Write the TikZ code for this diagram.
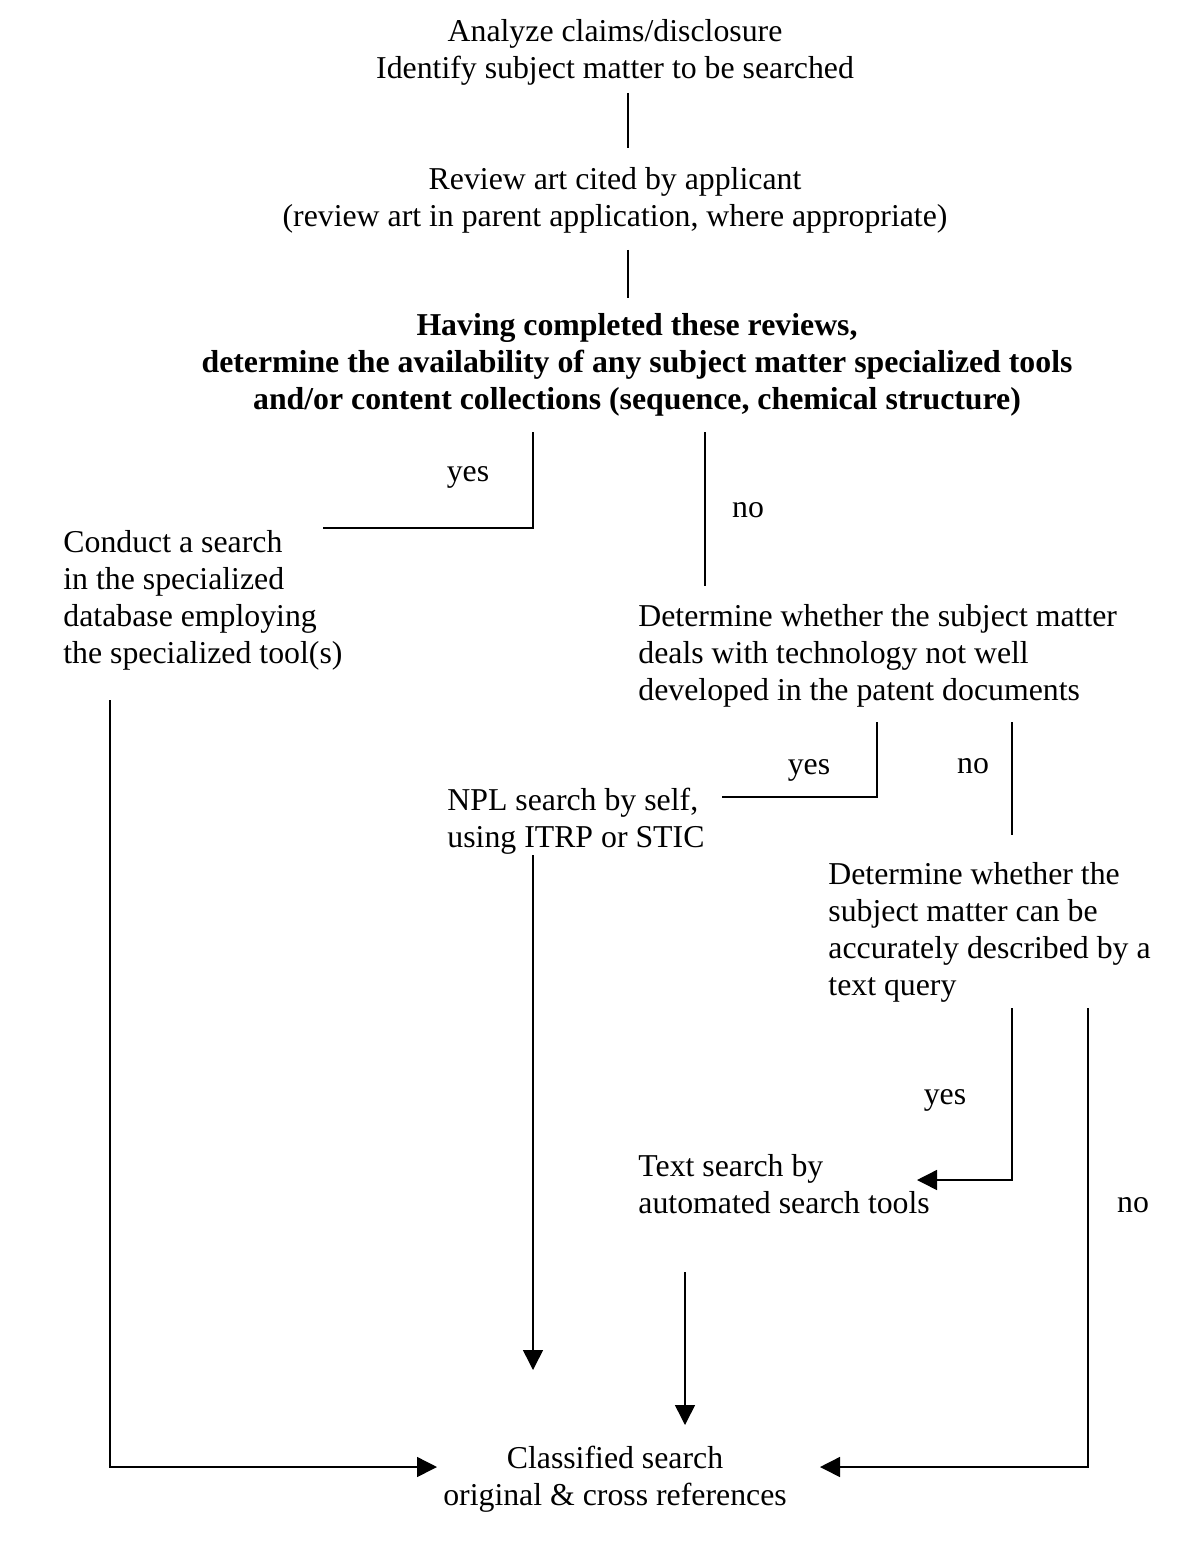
\documentclass[tikz,border=0pt]{standalone}
\usepackage{fontspec}
\setmainfont{Liberation Serif}
\usetikzlibrary{arrows.meta}

\tikzset{
  txt/.style={inner sep=0pt, align=left, font=\fontsize{15.9}{18.5}\selectfont},
  ctxt/.style={txt, align=center},
  lbl/.style={inner sep=0pt, font=\fontsize{15.9}{18.5}\selectfont},
  flow/.style={draw, line width=0.75pt},
  arr/.style={flow, -{Triangle[length=10pt,width=10pt]}},
}

\begin{document}
\begin{tikzpicture}[x=0.5pt,y=0.5pt,yscale=-1,xscale=1]
        \useasboundingbox (0,0) rectangle (1183,1546);

        % Text Node
        \node [ctxt] (analyze) at (615,52) {Analyze claims/disclosure\\Identify subject matter to be searched};
        % Text Node
        \node [ctxt] (review) at (615,200) {Review art cited by applicant\\(review art in parent application, where appropriate)};
        % Text Node
        \node [ctxt, font=\fontsize{15.9}{18.5}\selectfont\bfseries] (having) at (637,365) {Having completed these reviews,\\determine the availability of any subject matter specialized tools\\and/or content collections (sequence, chemical structure)};
        % Text Node
        \node [txt, anchor=west] (conduct) at (63,600) {Conduct a search\\in the specialized\\database employing\\the specialized tool(s)};
        % Text Node
        \node [txt, anchor=west] (techno) at (638,656) {Determine whether the subject matter\\deals with technology not well\\developed in the patent documents};
        % Text Node
        \node [txt, anchor=west] (npl) at (447,821.5) {NPL search by self,\\using ITRP or STIC};
        % Text Node
        \node [txt, anchor=west] (query) at (828,932) {Determine whether the\\subject matter can be\\accurately described by a\\text query};
        % Text Node
        \node [txt, anchor=west] (textsearch) at (638,1184) {Text search by\\automated search tools};
        % Text Node
        \node [ctxt] (classified) at (615,1479.5) {Classified search\\original \& cross references};

        % Labels
        \node [lbl] (yesA) at (468,477) {yes};
        \node [lbl] (noA) at (748,510) {no};
        \node [lbl] (yesB) at (809,770) {yes};
        \node [lbl] (noB) at (973,766) {no};
        \node [lbl] (yesC) at (945,1100) {yes};
        \node [lbl] (noC) at (1133,1205) {no};

        % Connector end points
        \coordinate (analyzeOut) at (628,93);
        \coordinate (reviewIn) at (628,148);
        \coordinate (reviewOut) at (628,250);
        \coordinate (havingIn) at (628,298);
        \coordinate (yesAtop) at (533,432);
        \coordinate (yesAend) at (323,528);
        \coordinate (noAtop) at (705,432);
        \coordinate (noAend) at (705,586);
        \coordinate (conductOut) at (110,700);
        \coordinate (yesBtop) at (877,722);
        \coordinate (yesBend) at (722,797);
        \coordinate (noBtop) at (1012,722);
        \coordinate (noBend) at (1012,835);
        \coordinate (nplOut) at (533,855);
        \coordinate (nplTip) at (533,1370);
        \coordinate (yesCtop) at (1012,1008);
        \coordinate (yesCtip) at (917,1180);
        \coordinate (noCtop) at (1088,1008);
        \coordinate (textOut) at (685,1272);
        \coordinate (textTip) at (685,1425);
        \coordinate (leftTip) at (437,1467);
        \coordinate (rightTip) at (820,1467);

        %Straight Lines
        \draw [flow] (analyzeOut) -- (reviewIn);
        \draw [flow] (reviewOut) -- (havingIn);
        \draw [flow] (yesAtop) |- (yesAend);
        \draw [flow] (noAtop) -- (noAend);
        \draw [flow] (yesBtop) |- (yesBend);
        \draw [flow] (noBtop) -- (noBend);
        %Arrows
        \draw [arr] (yesCtop) |- (yesCtip);
        \draw [arr] (noCtop) |- (rightTip);
        \draw [arr] (conductOut) |- (leftTip);
        \draw [arr] (nplOut) -- (nplTip);
        \draw [arr] (textOut) -- (textTip);

\end{tikzpicture}
\end{document}
